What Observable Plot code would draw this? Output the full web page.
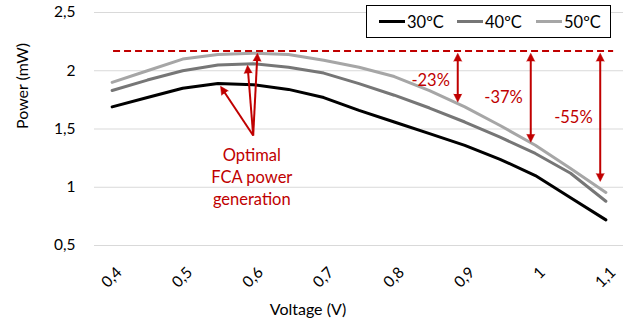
<!DOCTYPE html>
<html>
<head>
<meta charset="utf-8">
<script src="https://cdn.jsdelivr.net/npm/d3@7"></script>
<script src="https://cdn.jsdelivr.net/npm/@observablehq/plot@0.6"></script>
<style>
  body { margin: 0; background: #fff; }
  #wrap { position: relative; width: 627px; height: 331px; font-family: Lato, "DejaVu Sans", sans-serif; }
  #legend { position: absolute; left: 366px; top: 5px; width: 245px; height: 33px; box-sizing: border-box;
            border: 1px solid #000; background: #fff; display: flex; align-items: center; font-size: 16.5px; color: #000; }
  .item { display: flex; align-items: center; }
  .swatch { width: 26px; height: 3px; margin-right: 2px; }
</style>
</head>
<body>
<div id="wrap"></div>
<script>
// ---- data ----
const voltage = [0.4, 0.45, 0.5, 0.55, 0.6, 0.65, 0.7, 0.75, 0.8, 0.85, 0.9, 0.95, 1.0, 1.05, 1.1];
const p30 = [1.69, 1.77, 1.85, 1.89, 1.88, 1.84, 1.77, 1.66, 1.56, 1.46, 1.36, 1.24, 1.10, 0.91, 0.72];
const p40 = [1.83, 1.92, 2.00, 2.05, 2.06, 2.03, 1.98, 1.89, 1.79, 1.68, 1.56, 1.43, 1.29, 1.12, 0.88];
const p50 = [1.90, 2.00, 2.10, 2.14, 2.15, 2.14, 2.09, 2.03, 1.95, 1.83, 1.69, 1.53, 1.36, 1.16, 0.955];
const seriesNames = ["30ºC", "40ºC", "50ºC"];
const seriesColors = ["#000000", "#767676", "#a6a6a6"];
const xTicks = [0.4, 0.5, 0.6, 0.7, 0.8, 0.9, 1, 1.1];
const yTicks = [0.5, 1, 1.5, 2, 2.5];
const optimumLevel = 2.17;
const optimumSpan = [0.402, 1.111];
// drop annotations
const dropX = [0.89, 0.9935, 1.092];
const dropTop = [2.15, 2.15, 2.15];
const dropBottom = [1.731, 1.386, 1.05];
const dropLabels = ["-23%", "-37%", "-55%"];
const dropLabelX = [0.8516, 0.955, 1.054];
const dropLabelY = [1.918, 1.772, 1.599];
// optimal annotation
const optOrigin = [0.6, 1.444];
const optTipX = [0.5537, 0.592, 0.606];
const optTipY = [1.866, 2.047, 2.151];
const optText = "Optimal\nFCA power\ngeneration";
const optTextPos = [0.598, 1.099];

// ---- layout ----
const W = 627, H = 331, mL = 94, mR = 4, mT = 12, mB = 86;
const xDomain = [0.375, 1.125], yDomain = [0.5, 2.5];
const kx = (W - mL - mR) / (xDomain[1] - xDomain[0]);
const ky = (H - mT - mB) / (yDomain[1] - yDomain[0]);
const red = "#c00000";

const rows = voltage.flatMap((v, i) => [
  {v, p: p30[i], s: seriesNames[0]},
  {v, p: p40[i], s: seriesNames[1]},
  {v, p: p50[i], s: seriesNames[2]}
]);
const fmt = d => String(d).replace(".", ",");

// arrow heads
const heads = [];
const links = [];
const shorten = 5; // px
function addArrow(x1, y1, x2, y2, both) {
  const px = (x2 - x1) * kx, py = (y2 - y1) * ky;
  const len = Math.hypot(px, py);
  const ang = Math.atan2(px, py) * 180 / Math.PI;
  const ux = px / len, uy = py / len;
  heads.push({x: x2, y: y2, r: ang});
  let sx = x1, sy = y1;
  if (both) {
    heads.push({x: x1, y: y1, r: ang + 180});
    sx = x1 + ux * shorten / kx; sy = y1 + uy * shorten / ky;
  }
  links.push({x1: sx, y1: sy, x2: x2 - ux * shorten / kx, y2: y2 - uy * shorten / ky});
}
dropX.forEach((x, i) => addArrow(x, dropBottom[i], x, dropTop[i], true));
optTipX.forEach((x, i) => addArrow(optOrigin[0], optOrigin[1], x, optTipY[i], false));

const chart = Plot.plot({
  width: W, height: H,
  marginLeft: mL, marginRight: mR, marginTop: mT, marginBottom: mB,
  style: {fontFamily: "Lato, 'DejaVu Sans', sans-serif", fontSize: "15px", color: "#000", background: "#fff"},
  x: {domain: xDomain, axis: null},
  y: {domain: yDomain, axis: null},
  color: {domain: seriesNames, range: seriesColors},
  marks: [
    Plot.ruleY(yTicks, {stroke: "#d9d9d9", strokeWidth: 1}),
    Plot.text(yTicks, {y: d => d, frameAnchor: "left", text: fmt, textAnchor: "end", dx: -19, fontSize: 15.5}),
    Plot.text(xTicks, {x: d => d, frameAnchor: "bottom", text: fmt, rotate: -45, textAnchor: "end", lineAnchor: "top", dx: 3, dy: 20, fontSize: 15.5}),
    Plot.text(["Power (mW)"], {frameAnchor: "left", dx: -72, rotate: -90, fontSize: 16}),
    Plot.text(["Voltage (V)"], {frameAnchor: "bottom", dx: -51, dy: 69, fontSize: 16}),
    Plot.line(rows, {x: "v", y: "p", z: "s", stroke: "s", strokeWidth: 3}),
    Plot.ruleY([optimumLevel], {x1: optimumSpan[0], x2: optimumSpan[1], stroke: red, strokeWidth: 2, strokeDasharray: "7,4"}),
    Plot.link(links, {x1: "x1", y1: "y1", x2: "x2", y2: "y2", stroke: red, strokeWidth: 2}),
    Plot.vector(heads, {x: "x", y: "y", rotate: "r", length: 8, r: 4, shape: "spike", anchor: "end", fill: red, stroke: red, strokeWidth: 0.5}),
    Plot.text(dropLabels, {x: (d, i) => dropLabelX[i], y: (d, i) => dropLabelY[i], fill: red, fontSize: 16.5}),
    Plot.text([optText], {x: () => optTextPos[0], y: () => optTextPos[1], fill: red, fontSize: 16.5, lineHeight: 1.35})
  ]
});

const wrap = document.getElementById("wrap");
wrap.appendChild(chart);
const legend = document.createElement("div");
legend.id = "legend";
const starts = [12, 90, 169];
seriesNames.forEach((name, i) => {
  const it = document.createElement("div");
  it.className = "item";
  it.style.position = "absolute";
  it.style.left = starts[i] + "px";
  const sw = document.createElement("div");
  sw.className = "swatch";
  sw.style.background = seriesColors[i];
  const tx = document.createElement("span");
  tx.textContent = name;
  it.appendChild(sw); it.appendChild(tx);
  legend.appendChild(it);
});
wrap.appendChild(legend);
</script>
</body>
</html>
